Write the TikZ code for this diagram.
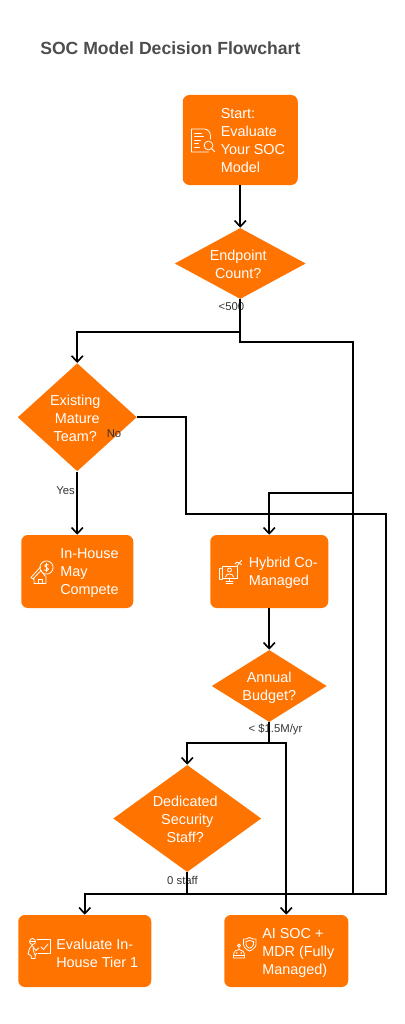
\documentclass[tikz,border=0pt]{standalone}
\usepackage{fontspec}
\setmainfont{Liberation Sans}
\usetikzlibrary{shapes.geometric,arrows.meta}
\definecolor{socorange}{RGB}{255,115,0}
\definecolor{soctitle}{RGB}{77,77,77}
\newcommand{\topgap}[1]{\rule{0pt}{#1pt}}
\tikzset{
  socbox/.style={fill=socorange,rounded corners=5pt,inner sep=0pt},
  socdiamond/.style={diamond,fill=socorange,inner sep=0pt,text=white,align=center,font=\fontsize{10.8}{13.5}\selectfont},
  boxtext/.style={anchor=west,inner sep=0pt,text=white,align=left,font=\fontsize{10.8}{13.5}\selectfont},
  edgetext/.style={inner sep=0pt,text=black!80,font=\fontsize{8.5}{10}\selectfont},
  flow/.style={draw=black,line width=1.2pt,-{Straight Barb[length=4.5pt,width=8.5pt,line width=1.2pt]}},
  flowplain/.style={draw=black,line width=1.2pt},
  iconline/.style={draw=white,line width=0.6pt,line cap=round,line join=round},
  docicon/.pic={
    \draw[iconline] (13,0) -- (0,0) -- (0,23) -- (17,23) (13,0) .. controls (16,0) and (19,3) .. (19,7) -- (19,10);
    \draw[iconline] (3,4) -- (10,4) (3,7.5) -- (12,7.5) (3,11) -- (9,11) (3,14.5) -- (7,14.5) (3,18) -- (8,18);
    \draw[iconline] (17,16.5) circle (4.4);
    \draw[iconline] (20.2,19.7) -- (23,22.5);
  },
  houseicon/.pic={
    \draw[iconline] (15.5,7) circle (6.6);
    \draw[iconline] (17.5,4.5) .. controls (16,3.2) and (13.5,3.8) .. (13.7,5.5) .. controls (14,7.5) and (17.5,6.5) .. (17.5,8.7) .. controls (17.5,10.6) and (14.5,10.8) .. (13.3,9.3) (15.5,2.8) -- (15.5,11.3);
    \draw[iconline] (0,17) -- (9.5,6.5) (0,17) -- (2,18.5) -- (10,10) -- (14,15.5) (3,17) -- (3,23) -- (15,23) -- (15,15.5);
    \draw[iconline] (7,23) -- (7,18.5) -- (11,18.5) -- (11,23);
  },
  screenicon/.pic={
    \draw[iconline] (3.5,6) rectangle (18,18);
    \draw[iconline] (3.5,8.5) -- (0.5,8.5) -- (0.5,19.5) -- (3.5,19.5);
    \draw[iconline] (7,21) -- (14,21) (10.5,18) -- (10.5,21) (7,23) -- (14,23);
    \draw[iconline] (10.5,10) circle (2);
    \draw[iconline] (6.5,17) .. controls (6.5,13) and (14.5,13) .. (14.5,17);
    \draw[iconline] (18,6) -- (22.5,0.5) (16,4) -- (18,2) -- (22.5,4.5);
  },
  boardicon/.pic={
    \draw[iconline] (4.5,3) circle (3);
    \draw[iconline] (2,3) -- (7,3);
    \draw[iconline] (9,1) -- (22,1) -- (22,15) -- (10,15);
    \draw[iconline] (13,8.5) -- (15.5,11) -- (20,5.5);
    \draw[iconline] (4,7) -- (8,12) -- (10.5,9.5) (4,7) -- (1.5,10) -- (0,15.5) -- (3,17) -- (3.5,20) -- (7,20) -- (7.5,16) -- (8.5,15) (5,10) -- (6.5,16);
  },
  roboticon/.pic={
    \draw[iconline] (16.5,0) .. controls (14,1.5) and (12,2) .. (10.5,1.5) -- (10.5,7) .. controls (10.5,10) and (14,12.5) .. (16.5,13.5) .. controls (19,12.5) and (23,10) .. (23,7) -- (23,1.5) .. controls (21,2) and (19,1.5) .. (16.5,0);
    \draw[iconline] (16.5,3) -- (13,4) -- (13,7) .. controls (13,9) and (15,10.2) .. (16.5,10.8) .. controls (18,10.2) and (20.5,9) .. (20.5,7) -- (20.5,4) -- cycle;
    \draw[iconline] (6,8) circle (1.5) (6,9.5) -- (6,12);
    \draw[iconline] (0.5,18) .. controls (0.5,14) and (3,12) .. (6,12) .. controls (9,12) and (11.5,14) .. (11.5,18) -- (11.5,20.5) -- (0.5,20.5) -- cycle;
    \draw[iconline] (0.5,18) -- (11.5,18);
    \fill[white] (3.8,15.5) circle (0.9) (8.2,15.5) circle (0.9);
  }
}
\begin{document}
\begin{tikzpicture}[x=0.75pt,y=0.75pt,yscale=-1,xscale=1]
\useasboundingbox (0,0) rectangle (404,1024);

\node[anchor=west,inner sep=0pt,text=soctitle,font=\fontsize{13.2}{16}\selectfont\bfseries] (title) at (40,48) {SOC Model Decision Flowchart};

% boxes
\node[socbox,minimum width=86.25pt,minimum height=67.5pt] (start) at (240.25,140) {};
\node[socbox,minimum width=84pt,minimum height=54.75pt] (inhouse) at (77.25,571.5) {};
\node[socbox,minimum width=88.5pt,minimum height=54.75pt] (hybrid) at (269.25,571.5) {};
\node[socbox,minimum width=99.75pt,minimum height=54pt] (tierone) at (84.75,951) {};
\node[socbox,minimum width=93pt,minimum height=54pt] (aisoc) at (286.25,951) {};

\node[boxtext] (starttext) at (220.5,141) {Start:\\Evaluate\\Your SOC\\Model};
\node[boxtext] (inhousetext) at (60,573) {In-House\\May\\Compete};
\node[boxtext] (hybridtext) at (248.5,573) {Hybrid Co-\\Managed};
\node[boxtext] (tieronetext) at (56,953) {Evaluate In-\\House Tier 1};
\node[boxtext] (aisoctext) at (262,953) {AI SOC +\\MDR (Fully\\Managed)};

% icons
\pic[transform shape] at (191.5,129) {docicon};
\pic[transform shape] at (31,560.5) {houseicon};
\pic[transform shape] at (219,560) {screenicon};
\pic[transform shape] at (28,938.5) {boardicon};
\pic[transform shape] at (233,937.5) {roboticon};

% diamonds
\node[socdiamond,aspect=1.85,minimum width=98.25pt,minimum height=53.25pt] (endpoint) at (240.25,263.5) {\topgap{9.4}Endpoint\hspace*{3pt}\\Count?\hspace*{3pt}};
\node[socdiamond,aspect=1.1,minimum width=89.25pt,minimum height=81pt] (mature) at (77.25,417.25) {\topgap{9.4}Existing\hspace*{3pt}\\Mature\hspace*{3pt}\\Team?\hspace*{3pt}};
\node[socdiamond,aspect=1.6,minimum width=86.25pt,minimum height=54pt] (budget) at (269.25,686) {\topgap{10.8}Annual\\Budget?};
\node[socdiamond,aspect=1.38,minimum width=111pt,minimum height=80.25pt] (staff) at (187.25,818.5) {\topgap{9.4}Dedicated\hspace*{3pt}\\Security\hspace*{3pt}\\Staff?\hspace*{3pt}};

% edge labels
\node[edgetext] (lessfive) at (231.5,307) {<500};
\node[edgetext] (nolabel) at (114,433.7) {No};
\node[edgetext] (yeslabel) at (65.5,491) {Yes};
\node[edgetext] (budgetlabel) at (275.5,729.5) {< \$1.5M/yr};
\node[edgetext] (stafflabel) at (182.5,880) {0 staff};

% bends
\coordinate (endleft) at (240.25,331.75);
\coordinate (endright) at (240.25,342.25);
\coordinate (outer) at (353.25,342.25);
\coordinate (hybridturn) at (353.25,493.25);
\coordinate (noturn) at (186.25,417.25);
\coordinate (nolow) at (186.25,514.25);
\coordinate (noright) at (386.25,514.25);
\coordinate (bottomright) at (386.25,894.25);
\coordinate (outerlow) at (353.25,894.25);
\coordinate (budgetsplit) at (269.25,743.25);
\coordinate (aibend) at (286.25,743.25);
\coordinate (staffjoin) at (187.25,894.25);

\draw[flow] (start) -- (endpoint);
\draw[flow] (endpoint.south) -- (endleft) -| (mature.north);
\draw[flow] (endleft) -- (endright) -- (outer) -- (hybridturn) -| (hybrid.north);
\draw[flowplain] (hybridturn) -- (outerlow);
\draw[flow] (mature.south) -- (inhouse.north);
\draw[flowplain] (mature.east) -- (noturn) -- (nolow) -- (noright) -- (bottomright) -- (staffjoin);
\draw[flow] (hybrid.south) -- (budget.north);
\draw[flow] (budget.south) -- (budgetsplit) -| (staff.north);
\draw[flow] (budgetsplit) -- (aibend) -- (aisoc.north);
\draw[flow] (staff.south) -- (staffjoin) -| (tierone.north);
\end{tikzpicture}
\end{document}
